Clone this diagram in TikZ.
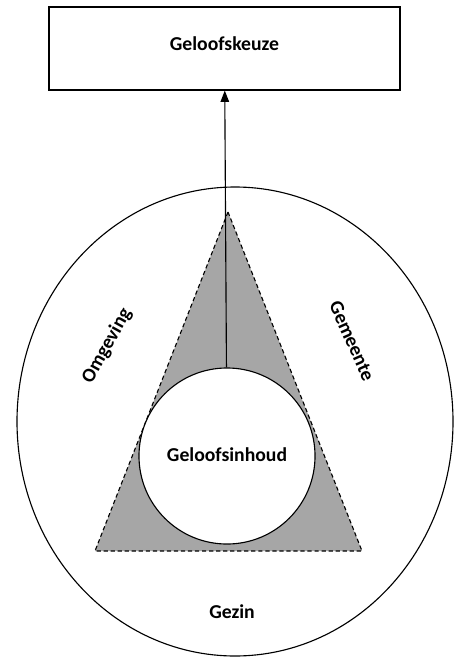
\documentclass[tikz,border=0pt]{standalone}
\usepackage{fontspec}
\setmainfont{Carlito}
\usetikzlibrary{arrows.meta}
\tikzset{
  label text/.style={font=\fontsize{14}{16}\selectfont\bfseries},
  keuzebox/.style={draw,line width=0.8pt,minimum width=8.775cm,minimum height=2.075cm},
  inhoudcircle/.style={draw,circle,fill=white,line width=0.8pt,minimum size=4.4cm,inner sep=0pt}
}
\begin{document}
\begin{tikzpicture}[x=0.025cm,y=-0.025cm,line width=0.8pt]

		\useasboundingbox (0,0) rectangle (454,657);

		% outer ring
		\draw (235,421.5) ellipse [x radius=218,y radius=234.5];

		% shaded triangle
		\filldraw[fill=black!35,dashed,dash pattern=on 3pt off 2pt] (228,212) -- (362,551) -- (95,551) -- cycle;

		\node (keuze) at (224.5,48.5) [keuzebox] {};
		\node at (224.5,44) [label text] {Geloofskeuze};

		\node (inhoud) at (227,456) [inhoudcircle] {};
		\node (inhoudtext) at (227,455) [label text] {Geloofsinhoud};

		\node (omgeving) at (107,346) [label text,rotate=61] {Omgeving};
		\node (gemeente) at (352,341) [label text,rotate=-66] {Gemeente};
		\node (gezin) at (232,612) [label text] {Gezin};

		\draw[-{Triangle[length=8pt,width=6pt]}] (inhoud) -- (keuze);

\end{tikzpicture}
\end{document}
